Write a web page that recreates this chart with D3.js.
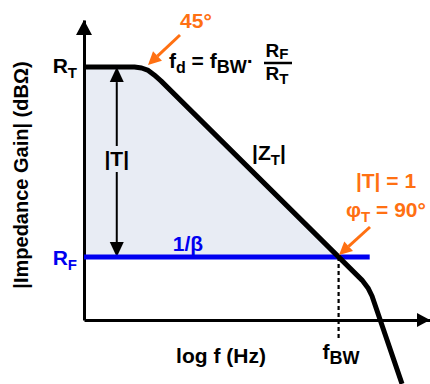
<!DOCTYPE html>
<html>
<head>
<meta charset="utf-8">
<script src="https://cdn.jsdelivr.net/npm/d3@7"></script>
<style>
  body { margin: 0; background: #fff; }
  text { font-family: "Liberation Sans", Arial, sans-serif; font-weight: bold; }
</style>
</head>
<body>
<div id="container"></div>
<script>
const WIDTH = 430;
const HEIGHT = 384;

// |Z_T|: frequency (Hz) and gain (dBOhm)
const ztFreq = [1, 7.5, 10, 13, 16.5, 21.6, 66200, 84100, 98700, 327000];
const ztGain = [84.3, 84.3, 84, 83.2, 81.7, 79.7, 13.3, 10.7, 8, -21.3];

const RT = 84.3; // transimpedance gain level
const RF = 21; // 1/beta level
const rfSpan = [1, 9e4]; // extent of the 1/beta line
const fBW = 2.6e4; // crossing frequency
const fBWDrop = -6; // where the dashed marker ends
const tArrowF = 3.7; // frequency of the |T| double arrow

const BLACK = "#000";
const BLUE = "#0000f0";
const ORANGE = "#ff7012";
const FILL = "#e8ecf4";

const svg = d3
  .select("div#container")
  .append("svg")
  .attr("width", WIDTH)
  .attr("height", HEIGHT);

const x = d3.scaleLog().domain([1, 1e6]).range([84, 430]);
const y = d3.scaleLinear().domain([0, 100]).range([320, 20]);

const zt = ztFreq.map((f, i) => [f, ztGain[i]]);

// arrowhead triangle pointing from (x1,y1) to tip (x2,y2)
function head(x1, y1, x2, y2, len, half) {
  const d = Math.hypot(x2 - x1, y2 - y1);
  const ux = (x2 - x1) / d;
  const uy = (y2 - y1) / d;
  const bx = x2 - ux * len;
  const by = y2 - uy * len;
  return {
    path: `M${x2},${y2}L${bx - uy * half},${by + ux * half}L${bx + uy * half},${by - ux * half}Z`,
    bx,
    by,
  };
}

// shaded region between |Z_T| and 1/beta
const areaData = zt.filter((d) => d[1] >= RF).concat([[fBW, RF]]);
svg
  .append("path")
  .datum(areaData)
  .attr("fill", FILL)
  .attr(
    "d",
    d3
      .area()
      .x((d) => x(d[0]))
      .y0(y(RF))
      .y1((d) => y(d[1]))
  );

// axes (no ticks) with arrowheads
const xAxis = d3.axisBottom(x).tickValues([]).tickSizeOuter(0);
const yAxis = d3.axisLeft(y).tickValues([]).tickSizeOuter(0);
svg
  .append("g")
  .attr("transform", `translate(0, ${y(0)})`)
  .call(xAxis)
  .select(".domain")
  .attr("stroke-width", 3);
svg
  .append("g")
  .attr("transform", `translate(${x(1)}, 0)`)
  .call(yAxis)
  .select(".domain")
  .attr("stroke-width", 3);
svg
  .append("path")
  .attr("d", head(x(1), y(0), x(1), y(100), 15, 8).path)
  .attr("fill", BLACK);
svg
  .append("path")
  .attr("d", head(x(1), y(0), x(1e6), y(0), 13, 7).path)
  .attr("fill", BLACK);

// |T| double arrow
const tx = x(tArrowF);
const hTop = head(tx, y(RF), tx, y(RT), 15, 7);
const hBot = head(tx, y(RT), tx, y(RF), 15, 7);
svg.append("path").attr("d", hTop.path).attr("fill", BLACK);
svg.append("path").attr("d", hBot.path).attr("fill", BLACK);
svg
  .append("line")
  .attr("x1", tx)
  .attr("x2", tx)
  .attr("y1", hTop.by)
  .attr("y2", 146)
  .attr("stroke", BLACK)
  .attr("stroke-width", 2);
svg
  .append("line")
  .attr("x1", tx)
  .attr("x2", tx)
  .attr("y1", 172)
  .attr("y2", hBot.by)
  .attr("stroke", BLACK)
  .attr("stroke-width", 2);
svg
  .append("text")
  .attr("x", tx)
  .attr("y", 166)
  .attr("text-anchor", "middle")
  .attr("font-size", 21)
  .text("|T|");

// 1/beta line
svg
  .append("line")
  .attr("x1", x(rfSpan[0]))
  .attr("x2", x(rfSpan[1]))
  .attr("y1", y(RF))
  .attr("y2", y(RF))
  .attr("stroke", BLUE)
  .attr("stroke-width", 5);

// |Z_T| curve
svg
  .append("path")
  .datum(zt)
  .attr("fill", "none")
  .attr("stroke", BLACK)
  .attr("stroke-width", 5)
  .attr("stroke-linejoin", "round")
  .attr(
    "d",
    d3
      .line()
      .x((d) => x(d[0]))
      .y((d) => y(d[1]))
  );

// dashed fBW marker
svg
  .append("line")
  .attr("x1", x(fBW))
  .attr("x2", x(fBW))
  .attr("y1", y(RF))
  .attr("y2", y(fBWDrop))
  .attr("stroke", BLACK)
  .attr("stroke-width", 2.2)
  .attr("stroke-dasharray", "4,3");

// text with one subscript: [main, sub, tail]
function subText(g, px, py, parts, opts) {
  const shift = opts.dy || 5;
  const t = g
    .append("text")
    .attr("x", px)
    .attr("y", py)
    .attr("font-size", opts.size || 21)
    .attr("fill", opts.color || BLACK)
    .attr("text-anchor", opts.anchor || "start");
  t.append("tspan").text(parts[0]);
  t.append("tspan").attr("font-size", opts.sub || 15).attr("dy", shift).text(parts[1]);
  if (parts[2]) t.append("tspan").attr("dy", -shift).text(parts[2]);
  return t;
}

subText(svg, 77, y(RT) + 6, ["R", "T"], { anchor: "end" });
subText(svg, 77, y(RF) + 8, ["R", "F"], { anchor: "end", color: BLUE });
subText(svg, 252, 160, ["|Z", "T", "|"], {});
svg
  .append("text")
  .attr("x", 188)
  .attr("y", 251)
  .attr("text-anchor", "middle")
  .attr("font-size", 21)
  .attr("fill", BLUE)
  .text("1/β");
subText(svg, 341, 359, ["f", "BW"], { anchor: "middle", sub: 18 });
svg
  .append("text")
  .attr("x", 221)
  .attr("y", 363)
  .attr("text-anchor", "middle")
  .attr("font-size", 21)
  .text("log f (Hz)");
svg
  .append("text")
  .attr("transform", "translate(28, 175) rotate(-90)")
  .attr("text-anchor", "middle")
  .attr("font-size", 20)
  .text("|Impedance Gain| (dBΩ)");

// f_d = f_BW . R_F / R_T
const fd = svg
  .append("text")
  .attr("x", 169)
  .attr("y", 68)
  .attr("font-size", 21);
fd.append("tspan").text("f");
fd.append("tspan").attr("font-size", 16).attr("dy", 5).text("d");
fd.append("tspan").attr("dy", -5).text(" = f");
fd.append("tspan").attr("font-size", 18).attr("dy", 5).text("BW");
fd.append("tspan").attr("dy", -5).text("·");
subText(svg, 277, 57, ["R", "F"], { anchor: "middle", size: 19, sub: 15, dy: 2 });
subText(svg, 277, 80, ["R", "T"], { anchor: "middle", size: 19, sub: 15, dy: 4 });
svg
  .append("line")
  .attr("x1", 264)
  .attr("x2", 292)
  .attr("y1", 63)
  .attr("y2", 63)
  .attr("stroke", BLACK)
  .attr("stroke-width", 2.5);

// orange annotations
svg
  .append("text")
  .attr("x", 196)
  .attr("y", 28)
  .attr("text-anchor", "middle")
  .attr("font-size", 21)
  .attr("fill", ORANGE)
  .text("45°");
svg
  .append("text")
  .attr("x", 386)
  .attr("y", 188)
  .attr("text-anchor", "middle")
  .attr("font-size", 21)
  .attr("fill", ORANGE)
  .text("|T| = 1");
subText(svg, 386, 217, ["φ", "T", " = 90°"], { anchor: "middle", color: ORANGE });

[
  [180, 35, 148, 65],
  [370, 227, 339, 255],
].forEach(([x1, y1, x2, y2]) => {
  const h = head(x1, y1, x2, y2, 13, 6.5);
  svg
    .append("line")
    .attr("x1", x1)
    .attr("y1", y1)
    .attr("x2", h.bx)
    .attr("y2", h.by)
    .attr("stroke", ORANGE)
    .attr("stroke-width", 3);
  svg.append("path").attr("d", h.path).attr("fill", ORANGE);
});
</script>
</body>
</html>
